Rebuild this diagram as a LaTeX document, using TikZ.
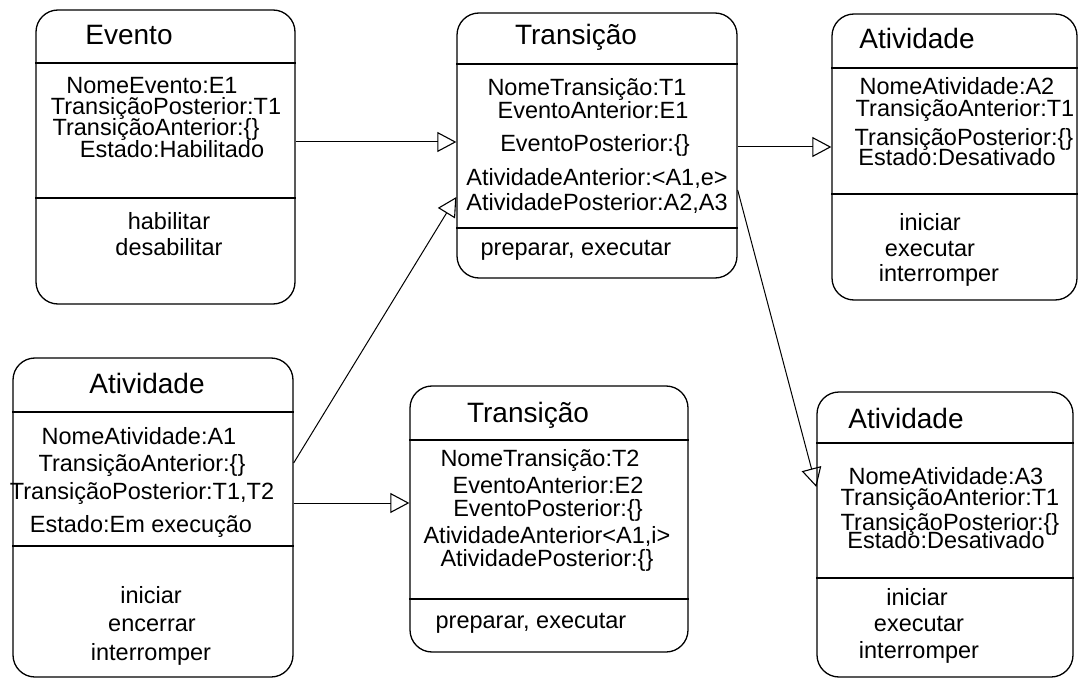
\documentclass[tikz,border=0pt]{standalone}
\usepackage{fontspec}
\setmainfont{Liberation Sans}
\usetikzlibrary{arrows.meta}
\begin{document}
\begin{tikzpicture}[x=1pt,y=-1pt,
  umlbox/.style={draw, line width=1.3pt, rounded corners=22pt, inner sep=0pt},
  divider/.style={line width=1.1pt},
  head/.style={anchor=base, inner sep=0pt, font=\fontsize{28}{30}\selectfont},
  attr/.style={anchor=base, inner sep=0pt, font=\fontsize{23.5}{25}\selectfont},
  conn/.style={line width=1pt, -{Triangle[open, length=19pt, width=20pt, line width=1.1pt]}}]
% canvas
\fill[white] (0,0) rectangle (1082,679);
\useasboundingbox (0,0) rectangle (1082,679);

% ---------- class boxes ----------
\node[umlbox, minimum width=259pt, minimum height=294pt] (ev) at (165.5,157) {};
\node[umlbox, minimum width=280pt, minimum height=265pt] (t1) at (597,145.5) {};
\node[umlbox, minimum width=245pt, minimum height=286pt] (a2) at (954.5,157) {};
\node[umlbox, minimum width=280pt, minimum height=319pt] (a1) at (153,517.5) {};
\node[umlbox, minimum width=278pt, minimum height=266pt] (t2) at (549,519) {};
\node[umlbox, minimum width=256pt, minimum height=285pt] (a3) at (945,534.5) {};

% compartment separators
\foreach \b/\ya/\yb in {ev/63/198, t1/64/228, a2/68/194, a1/412/546, t2/440/599, a3/443/578}{
  \draw[divider] (\b.west |- 0,\ya) -- (\b.east |- 0,\ya);
  \draw[divider] (\b.west |- 0,\yb) -- (\b.east |- 0,\yb);
}

% ---------- Evento ----------
\node[head] (ev-h) at (129,45) {Evento};
\node[attr] (ev-1) at (152,94)  {NomeEvento:E1};
\node[attr] (ev-2) at (166,115) {TransiçãoPosterior:T1};
\node[attr] (ev-3) at (156,136) {TransiçãoAnterior:\{\}};
\node[attr] (ev-4) at (172,158) {Estado:Habilitado};
\node[attr] (ev-5) at (169,230) {habilitar};
\node[attr] (ev-6) at (169,256) {desabilitar};

% ---------- Transição T1 ----------
\node[head] (t1-h) at (576,45) {Transição};
\node[attr] (t1-1) at (587,96)  {NomeTransição:T1};
\node[attr] (t1-2) at (593,119) {EventoAnterior:E1};
\node[attr] (t1-3) at (595,152) {EventoPosterior:\{\}};
\node[attr] (t1-4) at (597,186) {AtividadeAnterior:<A1,e>};
\node[attr] (t1-5) at (597,211) {AtividadePosterior:A2,A3};
\node[attr] (t1-6) at (576,255) {preparar, executar};

% ---------- Atividade A2 ----------
\node[head] (a2-h) at (917,49) {Atividade};
\node[attr] (a2-1) at (957,95)  {NomeAtividade:A2};
\node[attr] (a2-2) at (965,117) {TransiçãoAnterior:T1};
\node[attr] (a2-3) at (964,146) {TransiçãoPosterior:\{\}};
\node[attr] (a2-4) at (957,166) {Estado:Desativado};
\node[attr] (a2-5) at (930,231) {iniciar};
\node[attr] (a2-6) at (930,257) {executar};
\node[attr] (a2-7) at (939,282) {interromper};

% ---------- Atividade A1 ----------
\node[head] (a1-h) at (147,393) {Atividade};
\node[attr] (a1-1) at (139,444) {NomeAtividade:A1};
\node[attr] (a1-2) at (142,471) {TransiçãoAnterior:\{\}};
\node[attr] (a1-3) at (142,499) {TransiçãoPosterior:T1,T2};
\node[attr] (a1-4) at (141,532) {Estado:Em execução};
\node[attr] (a1-5) at (151,603) {iniciar};
\node[attr] (a1-6) at (152,631) {encerrar};
\node[attr] (a1-7) at (151,660) {interromper};

% ---------- Transição T2 ----------
\node[head] (t2-h) at (528,422) {Transição};
\node[attr] (t2-1) at (540,466) {NomeTransição:T2};
\node[attr] (t2-2) at (548,493) {EventoAnterior:E2};
\node[attr] (t2-3) at (548,516) {EventoPosterior:\{\}};
\node[attr] (t2-4) at (547,543) {AtividadeAnterior<A1,i>};
\node[attr] (t2-5) at (547,566) {AtividadePosterior:\{\}};
\node[attr] (t2-6) at (531,628) {preparar, executar};

% ---------- Atividade A3 ----------
\node[head] (a3-h) at (906,428) {Atividade};
\node[attr] (a3-1) at (946,484) {NomeAtividade:A3};
\node[attr] (a3-2) at (950,505) {TransiçãoAnterior:T1};
\node[attr] (a3-3) at (950,530) {TransiçãoPosterior:\{\}};
\node[attr] (a3-4) at (946,548) {Estado:Desativado};
\node[attr] (a3-5) at (917,605) {iniciar};
\node[attr] (a3-6) at (919,631) {executar};
\node[attr] (a3-7) at (919,658) {interromper};

% ---------- connector ends ----------
\coordinate (ev-o)  at (ev.east |- 0,142);
\coordinate (t1-i1) at (t1.west |- 0,142);
\coordinate (a1-o1) at (a1.east |- 0,463);
\coordinate (t1-i2) at (t1.west |- 0,197);
\coordinate (a1-o2) at (a1.east |- 0,503);
\coordinate (t2-i)  at (t2.west |- 0,503);
\coordinate (t1-o1) at (t1.east |- 0,147);
\coordinate (a2-i)  at (a2.west |- 0,147);
\coordinate (t1-o2) at (t1.east |- 0,190);
\coordinate (a3-i)  at (a3.west |- 0,487);

\draw[conn] (ev-o) -- (t1-i1);
\draw[conn] (a1-o1) -- (t1-i2);
\draw[conn] (a1-o2) -- (t2-i);
\draw[conn] (t1-o1) -- (a2-i);
\draw[conn] (t1-o2) -- (a3-i);
\end{tikzpicture}
\end{document}
